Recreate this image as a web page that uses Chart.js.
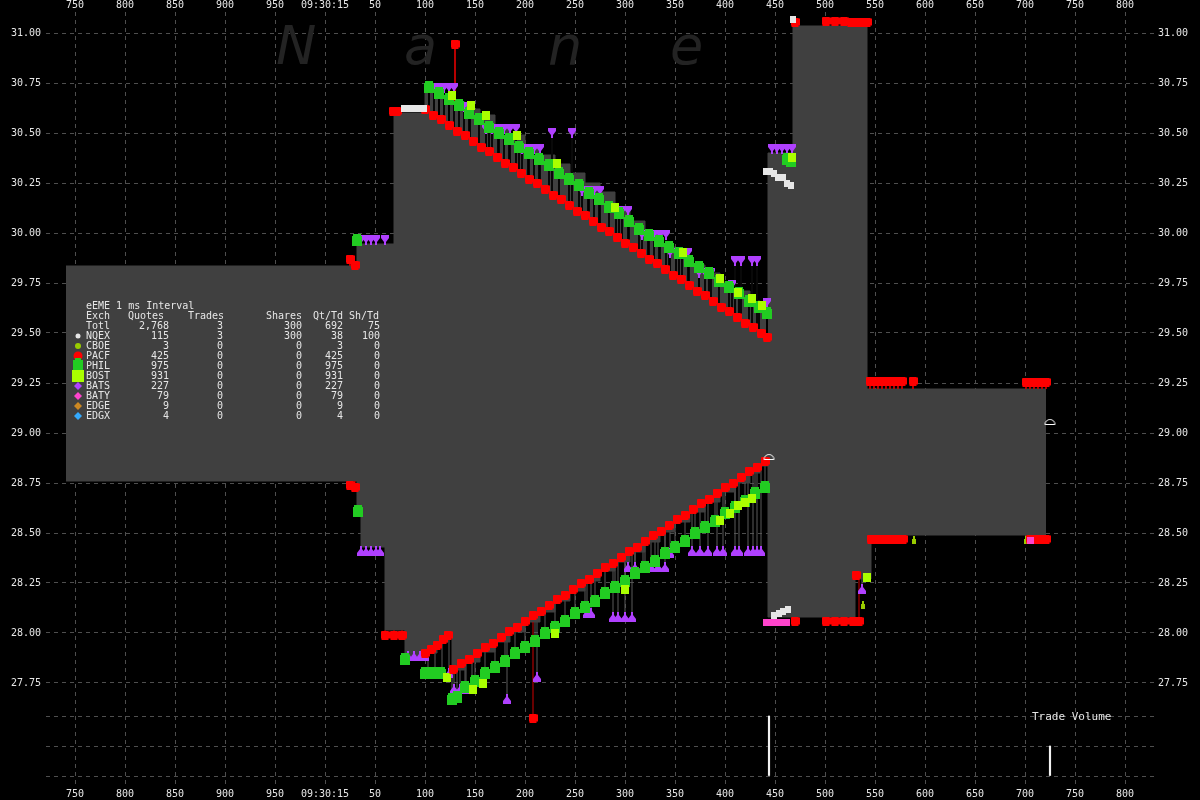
<!DOCTYPE html>
<html><head><meta charset="utf-8">
<script src="https://cdn.jsdelivr.net/npm/chart.js@4.4.1/dist/chart.umd.min.js"></script>
<style>html,body{margin:0;padding:0;background:#000;overflow:hidden}</style>
</head><body>
<canvas id="c" width="1200" height="800"></canvas>
<script>
// ================= DATA =================
// time in ms relative to 09:30:15.000
const timeTicks = [-250,-200,-150,-100,-50,0,50,100,150,200,250,300,350,400,450,500,550,600,650,700,750,800];
const priceTicks = [27.75,28.00,28.25,28.50,28.75,29.00,29.25,29.50,29.75,30.00,30.25,30.50,30.75,31.00];
const volumeTicks = [0,100,200];

// NBBO band (step function)
const bandTimes = [-259,32,36,60,69,80,100,112,123,127,140,155,170,185,200,215,230,245,260,275,290,305,320,335,350,365,380,395,410,425,435,443,468,530,542,546,721];
const bandAsk = [29.835,29.945,29.945,29.945,30.60,30.60,30.72,30.69,30.665,30.655,30.62,30.59,30.53,30.49,30.44,30.39,30.345,30.30,30.25,30.205,30.13,30.06,29.99,29.93,29.89,29.84,29.80,29.755,29.71,29.66,29.625,30.40,31.035,31.035,29.22,29.22,29.22];
const bandBid = [28.76,28.59,28.43,28.015,28.015,27.885,27.90,27.955,28.00,27.815,27.855,27.905,27.955,28.005,28.055,28.105,28.16,28.21,28.26,28.31,28.355,28.405,28.455,28.505,28.555,28.605,28.655,28.705,28.75,28.80,28.835,28.08,28.08,28.27,28.27,28.49,28.49];

// PACF (red)
const pacfAsks = [[25,29.87],[30,29.84],[68,30.61],[72,30.61],
 [100,30.62],[108,30.59],[116,30.57],[124,30.54],[132,30.51],[140,30.49],[148,30.46],[156,30.43],[164,30.41],[172,30.38],
 [180,30.35],[188,30.33],[196,30.30],[204,30.27],[212,30.25],[220,30.22],[228,30.19],[236,30.17],[244,30.14],[252,30.11],
 [260,30.09],[268,30.06],[276,30.03],[284,30.01],[292,29.98],[300,29.95],[308,29.93],[316,29.90],[324,29.87],[332,29.85],
 [340,29.82],[348,29.79],[356,29.77],[364,29.74],[372,29.71],[380,29.69],[388,29.66],[396,29.63],[404,29.61],[412,29.58],
 [420,29.55],[428,29.53],[436,29.50],[442,29.48],
 [130,30.945],[470,31.055],[501,31.06],[510,31.06],[519,31.06],[526,31.055],[530,31.055],[534,31.055],[538,31.055],[542,31.055],
 [545,29.26],[549,29.26],[553,29.26],[557,29.26],[561,29.26],[565,29.26],[569,29.26],[573,29.26],[577,29.26],[588,29.26],
 [701,29.255],[705,29.255],[709,29.255],[713,29.255],[717,29.255],[721,29.255]];
const pacfBids = [[25,28.74],[30,28.73],[60,27.99],[69,27.99],[77,27.99],
 [100,27.90],[106,27.92],[112,27.94],[118,27.97],[123,27.99],
 [128,27.82],[136,27.85],[144,27.87],[152,27.90],[160,27.93],[168,27.95],[176,27.98],[184,28.01],[192,28.03],[200,28.06],
 [208,28.09],[216,28.11],[224,28.14],[232,28.17],[240,28.19],[248,28.22],[256,28.25],[264,28.27],[272,28.30],[280,28.33],
 [288,28.35],[296,28.38],[304,28.41],[312,28.43],[320,28.46],[328,28.49],[336,28.51],[344,28.54],[352,28.57],[360,28.59],
 [368,28.62],[376,28.65],[384,28.67],[392,28.70],[400,28.73],[408,28.75],[416,28.78],[424,28.81],[432,28.83],[440,28.86],
 [208,27.575],[470,28.06],[501,28.06],[510,28.06],[519,28.06],[528,28.06],[534,28.06],[531,28.29],
 [546,28.47],[550,28.47],[554,28.47],[558,28.47],[562,28.47],[566,28.47],[570,28.47],[574,28.47],[578,28.47],
 [705,28.47],[709,28.47],[713,28.47],[717,28.47],[721,28.47]];

// PHIL (green)
const philAsks = [[32,29.965],
 [104,30.73],[114,30.70],[124,30.67],[134,30.64],[144,30.60],[154,30.57],[164,30.53],[174,30.50],[184,30.47],[194,30.43],
 [204,30.40],[214,30.37],[224,30.34],[234,30.30],[244,30.27],[254,30.24],[264,30.20],[274,30.17],[284,30.13],[294,30.10],
 [304,30.06],[314,30.02],[324,29.99],[334,29.96],[344,29.93],[354,29.90],[364,29.86],[374,29.83],[384,29.80],[394,29.76],
 [404,29.73],[414,29.70],[424,29.66],[434,29.63],[442,29.60],[462,30.37],[466,30.36]];
const philBids = [[33,28.61],[80,27.87],[100,27.80],[108,27.80],[116,27.80],[127,27.67],[132,27.68],
 [140,27.73],[150,27.76],[160,27.80],[170,27.83],[180,27.86],[190,27.90],[200,27.93],[210,27.96],[220,28.00],[230,28.03],
 [240,28.06],[250,28.10],[260,28.13],[270,28.16],[280,28.20],[290,28.23],[300,28.26],[310,28.30],[320,28.33],[330,28.36],
 [340,28.40],[350,28.43],[360,28.46],[370,28.50],[380,28.53],[390,28.56],[400,28.60],[410,28.63],[420,28.66],[430,28.70],[440,28.73]];

// BOST (lime)
const bostAsks = [[127,30.69],[146,30.64],[161,30.59],[192,30.49],[232,30.35],[290,30.13],[358,29.905],[395,29.775],[413,29.705],[427,29.675],[437,29.64],[467,30.38]];
const bostBids = [[122,27.78],[148,27.72],[158,27.75],[230,28.00],[300,28.22],[395,28.565],[405,28.60],[413,28.64],[420,28.655],[427,28.675],[542,28.28]];

// BATS (purple)
const batsAsks = [[36,29.965],[41,29.965],[46,29.965],[51,29.965],[60,29.965],
 [104,30.725],[109,30.725],[114,30.725],[119,30.725],[124,30.725],[129,30.725],
 [139,30.63],[145,30.63],
 [161,30.52],[167,30.52],[173,30.52],[179,30.52],[185,30.52],[191,30.52],
 [197,30.42],[203,30.42],[209,30.42],[215,30.42],[227,30.50],[247,30.50],
 [257,30.21],[263,30.21],[269,30.21],[275,30.21],
 [291,30.11],[297,30.11],[303,30.11],
 [317,29.99],[323,29.99],[329,29.99],[335,29.99],[341,29.99],
 [345,29.90],[351,29.90],[357,29.90],[363,29.90],
 [374,29.80],[380,29.80],[386,29.80],[407,29.74],
 [410,29.86],[416,29.86],[427,29.86],[432,29.86],[442,29.65],
 [447,30.42],[452,30.42],[457,30.42],[462,30.42],[467,30.42]];
const batsBids = [[36,28.41],[41,28.41],[46,28.41],[51,28.41],[55,28.41],
 [83,27.885],[89,27.885],[95,27.885],[100,27.885],
 [103,27.80],[110,27.80],[117,27.80],[124,27.80],
 [129,27.72],[135,27.72],[141,27.72],[147,27.72],
 [182,27.67],[212,27.78],[262,28.10],[266,28.10],
 [288,28.08],[293,28.08],[300,28.08],[307,28.08],
 [303,28.33],[310,28.33],[318,28.33],[326,28.33],[333,28.33],[340,28.33],
 [345,28.40],[367,28.41],[375,28.41],[383,28.41],[392,28.41],[398,28.41],
 [410,28.41],[414,28.41],[423,28.41],[428,28.41],[432,28.41],[436,28.41],[537,28.22]];

// NQEX (white)
const nqexAsks = [[79,30.625],[83,30.625],[87,30.625],[91,30.625],[95,30.625],[99,30.625],
 [441,30.31],[445,30.31],[449,30.30],[453,30.28],[458,30.28],[462,30.25],[466,30.24],[468,31.07]];
const nqexBids = [[449,28.09],[454,28.10],[458,28.11],[463,28.12]];

// BATY (pink), CBOE (yellow-green)
const batyQuotes = [[441,28.055],[445,28.055],[449,28.055],[453,28.055],[457,28.055],[461,28.055],[705,28.465]];
const cboeQuotes = [[538,28.14],[589,28.465],[701,28.465]];

// Trades
const tradeTimes = [444,725];
const tradePrices = [28.87,29.045];
const tradeSizes = [200,100];

// Summary table
const tableTitle = 'eEME 1 ms Interval';
const tableHeader = ['Exch','Quotes','Trades','Shares','Qt/Td','Sh/Td'];
const exchNames  = ['Totl','NQEX','CBOE','PACF','PHIL','BOST','BATS','BATY','EDGE','EDGX'];
const exchQuotes = ['2,768','115','3','425','975','931','227','79','9','4'];
const exchTrades = [3,3,0,0,0,0,0,0,0,0];
const exchShares = [300,300,0,0,0,0,0,0,0,0];
const exchQtTd   = [692,38,3,425,975,931,227,79,9,4];
const exchShTd   = [75,100,0,0,0,0,0,0,0,0];
const watermark = ['N','a','n','e'];

// ================= STYLE =================
const C = {
  band:'#404040', grid:'#4e4e4e', text:'#e6e6e6',
  pacf:'#ff0000', phil:'#22cc22', bost:'#aaff00', bats:'#b040ff',
  nqex:'#e6e6e6', baty:'#ff44cc', cboe:'#99cc00', edge:'#cc8822', edgx:'#33aaff'
};
const FONT = '"DejaVu Sans Mono", monospace';

function icon(w,h,fn){const c=document.createElement('canvas');c.width=w;c.height=h;const g=c.getContext('2d');fn(g,w,h);return c;}
const icRed = icon(9,9,(g)=>{g.fillStyle=C.pacf;g.fillRect(1,0,7,9);g.fillRect(0,1,9,7);});
const icGreen = icon(10,12,(g)=>{g.fillStyle=C.phil;g.fillRect(1,0,8,12);g.fillRect(0,2,10,10);});
const icLime = icon(8,9,(g)=>{g.fillStyle=C.bost;g.fillRect(0,0,8,9);});
const icWhite = icon(6,7,(g)=>{g.fillStyle=C.nqex;g.fillRect(0,0,6,7);});
const icPink = icon(7,7,(g)=>{g.fillStyle=C.baty;g.fillRect(0,0,7,7);});
const icCboe = icon(4,8,(g)=>{g.fillStyle=C.cboe;g.fillRect(0,3,4,5);g.fillRect(1,0,2,3);});
const icTriDown = icon(8,10,(g)=>{g.fillStyle=C.bats;g.beginPath();g.moveTo(0,0);g.lineTo(8,0);g.lineTo(8,3);g.lineTo(5,7);g.lineTo(5,10);g.lineTo(3,10);g.lineTo(3,7);g.lineTo(0,3);g.closePath();g.fill();});
const icTriUp = icon(8,10,(g)=>{g.fillStyle=C.bats;g.beginPath();g.moveTo(0,10);g.lineTo(8,10);g.lineTo(8,7);g.lineTo(5,3);g.lineTo(5,0);g.lineTo(3,0);g.lineTo(3,3);g.lineTo(0,7);g.closePath();g.fill();});
const icDome = icon(13,12,(g)=>{g.strokeStyle='#ffffff';g.lineWidth=1;g.beginPath();g.arc(6.5,6.5,5,Math.PI,0);g.closePath();g.stroke();});

// ================= HELPERS =================
const pts = list => list.map(([x,y])=>({x,y}));
function stepAt(t, vals){let v=vals[0];for(let i=0;i<bandTimes.length;i++){if(bandTimes[i]<=t)v=vals[i];}return v;}
function nearestP(list,t){let best=null,d=1e9;for(const [x,y] of list){const dd=Math.abs(x-t);if(dd<d){d=dd;best=y;}}return best;}
function stems(list, refFn, keep){const out=[];for(const [t,p] of list){const r=refFn(t);if(r==null||!keep(p,r))continue;out.push({x:t,y:p},{x:t,y:r},{x:t,y:null});}return out;}

const stemsGrey = [].concat(
  stems(batsAsks, t=>stepAt(t,bandAsk), (p,r)=>p>r),
  stems(batsBids, t=>stepAt(t,bandBid), (p,r)=>p<r),
  stems(philBids.filter(d=>d[0]>=127), t=>nearestP(pacfBids.slice(10,50),t), (p,r)=>p<r)
);
const stemsDark = [].concat(
  stems(philAsks.filter(d=>d[0]>=100&&d[0]<=442), t=>nearestP(pacfAsks.slice(4,48),t), (p,r)=>p>r),
  stems(batsAsks.filter(d=>d[0]>=100&&d[0]<=442), t=>nearestP(pacfAsks.slice(4,48),t), (p,r)=>p>r)
);
const stemsRed = [].concat(
  stems(pacfAsks, t=>stepAt(t,bandAsk), (p,r)=>p>r+0.015 && p-r<0.35),
  stems(pacfBids, t=>stepAt(t,bandBid), (p,r)=>p<r-0.015 && r-p<0.6)
);

function marker(label, list, ic, order){
  return {type:'scatter', label, data:pts(list), pointStyle:ic, pointRadius:4, order, xAxisID:'x', yAxisID:'y'};
}
function stemSet(label, data, color, order){
  return {type:'line', label, data, borderColor:color, borderWidth:1, pointRadius:0, spanGaps:false, fill:false, order, xAxisID:'x', yAxisID:'y'};
}

const datasets = [
  {type:'line', label:'NBBO ask', data:bandTimes.map((t,i)=>({x:t,y:bandAsk[i]})), stepped:'before', borderColor:C.band, borderWidth:1, pointRadius:0, backgroundColor:C.band, fill:'+1', order:100, xAxisID:'x', yAxisID:'y'},
  {type:'line', label:'NBBO bid', data:bandTimes.map((t,i)=>({x:t,y:bandBid[i]})), stepped:'before', borderColor:C.band, borderWidth:1, pointRadius:0, fill:false, order:101, xAxisID:'x', yAxisID:'y'},
  stemSet('stems grey', stemsGrey, '#5a5a5a', 110),
  stemSet('stems dark', stemsDark, '#000000', 90),
  stemSet('stems red', stemsRed, '#d00000', 89),
  marker('BATS ask', batsAsks, icTriDown, 60),
  marker('BATS bid', batsBids, icTriUp, 60),
  marker('PHIL ask', philAsks, icGreen, 50),
  marker('PHIL bid', philBids, icGreen, 50),
  marker('BOST ask', bostAsks, icLime, 45),
  marker('BOST bid', bostBids, icLime, 45),
  marker('CBOE', cboeQuotes, icCboe, 44),
  marker('PACF ask', pacfAsks, icRed, 40),
  marker('PACF bid', pacfBids, icRed, 40),
  marker('BATY', batyQuotes, icPink, 35),
  marker('NQEX ask', nqexAsks, icWhite, 30),
  marker('NQEX bid', nqexBids, icWhite, 30),
  {type:'scatter', label:'Trades', data:tradeTimes.map((t,i)=>({x:t,y:tradePrices[i]})), pointStyle:icDome, pointRadius:4, order:10, xAxisID:'x', yAxisID:'y'},
  {type:'bar', label:'Trade Volume', data:tradeTimes.map((t,i)=>({x:t,y:tradeSizes[i]})), backgroundColor:'#f2f2f2', barThickness:1.5, grouped:false, order:5, xAxisID:'x', yAxisID:'yV'}
];

const fmtTime = v => v < 0 ? String(1000 + v) : (v === 0 ? '09:30:15' : String(v));
const tickFont = {family:FONT, size:10};
const setTicks = arr => s => { s.ticks = arr.map(v=>({value:v})); };

const overlay = {
  id:'overlay',
  beforeDraw(chart){const g=chart.ctx;g.save();g.fillStyle='#000';g.fillRect(0,0,chart.width,chart.height);g.restore();},
  beforeDatasetsDraw(chart){
    const g=chart.ctx;g.save();
    g.fillStyle='#232323';g.font='italic 54px "DejaVu Sans", sans-serif';g.textBaseline='alphabetic';
    const xs=[276,404,548,670];
    watermark.forEach((ch,i)=>g.fillText(ch,xs[i],64));
    g.restore();
  },
  afterDatasetsDraw(chart){
    const g=chart.ctx;g.save();
    g.font='10px '+FONT;g.fillStyle=C.text;g.textBaseline='middle';
    g.textAlign='left';
    g.fillText(tableTitle,86,306);
    const hx=[86,128,188,266,313,349];
    tableHeader.forEach((h,i)=>g.fillText(h,hx[i],316));
    const rx=[169,223,302,343,380];
    exchNames.forEach((n,i)=>{
      const y=326+i*10;
      g.textAlign='left';g.fillText(n,86,y);
      g.textAlign='right';
      [exchQuotes[i],exchTrades[i],exchShares[i],exchQtTd[i],exchShTd[i]].forEach((v,j)=>g.fillText(String(v),rx[j],y));
    });
    const ix=78;
    const circ=(y,r,c)=>{g.fillStyle=c;g.beginPath();g.arc(ix,y,r,0,Math.PI*2);g.fill();};
    const dia=(y,r,c)=>{g.fillStyle=c;g.beginPath();g.moveTo(ix,y-r);g.lineTo(ix+r,y);g.lineTo(ix,y+r);g.lineTo(ix-r,y);g.closePath();g.fill();};
    circ(336,2.5,C.nqex);
    circ(346,3,C.cboe);
    circ(356,4.5,C.pacf);
    g.fillStyle=C.phil;g.fillRect(73,360,10,10);g.fillRect(75,358,6,2);
    g.fillStyle=C.bost;g.fillRect(72,370,12,12);
    dia(386,4,C.bats);dia(396,4,C.baty);dia(406,4,C.edge);dia(416,4,C.edgx);
    g.fillStyle=C.text;g.textAlign='left';g.font='11px '+FONT;
    g.fillText('Trade Volume',1032,717);
    g.restore();
  }
};

new Chart(document.getElementById('c'), {
  type:'scatter',
  data:{datasets},
  options:{
    responsive:false, animation:false, events:[],
    layout:{padding:0},
    plugins:{legend:{display:false}, tooltip:{enabled:false}},
    scales:{
      x:{type:'linear', position:'bottom', min:-279, max:829, bounds:'data', offset:false,
         afterBuildTicks:setTicks(timeTicks), afterFit:s=>{s.height=14;},
         ticks:{color:C.text, font:tickFont, padding:2, maxRotation:0, autoSkip:false, callback:fmtTime},
         grid:{color:C.grid, drawTicks:false, offset:false}, border:{display:false, dash:[4,4]}},
      xt:{type:'linear', position:'top', min:-279, max:829, bounds:'data', offset:false,
         afterBuildTicks:setTicks(timeTicks), afterFit:s=>{s.height=12;},
         ticks:{color:C.text, font:tickFont, padding:1, maxRotation:0, autoSkip:false, callback:fmtTime},
         grid:{display:false, drawTicks:false}, border:{display:false}},
      y:{type:'linear', position:'left', weight:10, min:27.235, max:31.105, bounds:'data',
         afterBuildTicks:setTicks(priceTicks), afterFit:s=>{s.width=46;},
         ticks:{color:C.text, font:tickFont, padding:5, callback:v=>Number(v).toFixed(2)},
         grid:{color:C.grid, drawTicks:false}, border:{display:false, dash:[4,4]}},
      yR:{type:'linear', position:'right', weight:10, min:27.235, max:31.105, bounds:'data',
         afterBuildTicks:setTicks(priceTicks), afterFit:s=>{s.width=46;},
         ticks:{color:C.text, font:tickFont, padding:4, callback:v=>Number(v).toFixed(2)},
         grid:{display:false, drawTicks:false}, border:{display:false}},
      yV:{type:'linear', position:'left', weight:0, min:-33.333, max:2546.667, bounds:'data',
         afterBuildTicks:setTicks(volumeTicks), afterFit:s=>{s.width=0;},
         ticks:{color:C.text, font:tickFont, padding:5, callback:v=>String(v)},
         grid:{color:C.grid, drawTicks:false}, border:{display:false, dash:[4,4]}},
      yVR:{type:'linear', position:'right', weight:0, min:-33.333, max:2546.667, bounds:'data',
         afterBuildTicks:setTicks(volumeTicks), afterFit:s=>{s.width=0;},
         ticks:{color:C.text, font:tickFont, padding:4, callback:v=>String(v)},
         grid:{display:false, drawTicks:false}, border:{display:false}}
    }
  },
  plugins:[overlay]
});
</script>
</body></html>
